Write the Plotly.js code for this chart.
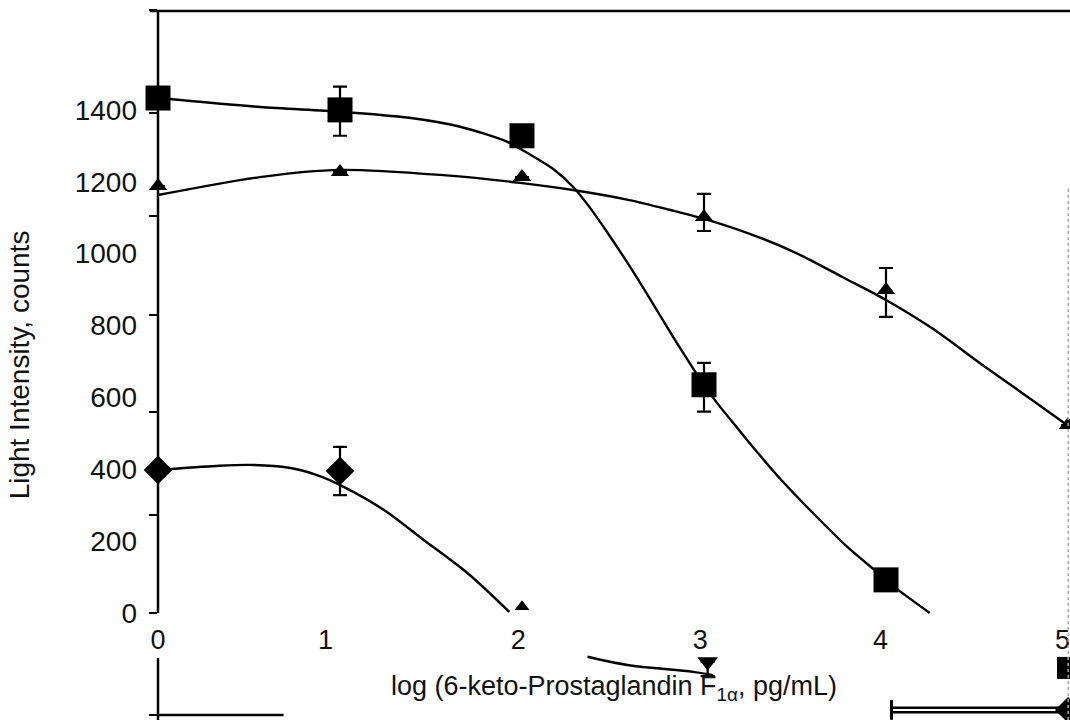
<!DOCTYPE html>
<html>
<head>
<meta charset="utf-8">
<script src="https://cdn.plot.ly/plotly-3.0.1.min.js"></script>
<style>html,body{margin:0;padding:0;background:#fff;}#chart{width:1070px;height:727px;}</style>
</head>
<body>
<div id="chart"></div>
<script>
// ---- data ----
var doseX = [0, 1, 2, 3, 4];
var squareY = [1433, 1400, 1328, 635, 92];
var squareErrPlus = [0, 65, 0, 61, 0];
var squareErrMinus = [0, 72, 0, 75, 0];

var triangleX = [0, 1, 2, 3, 4, 5];
var triangleY = [1188, 1227, 1213, 1102, 899, 523];
var triangleErrPlus = [0, 0, 0, 64, 61, 0];
var triangleErrMinus = [0, 0, 0, 39, 75, 0];

var diamondX = [0, 1];
var diamondY = [398, 395];
var diamondErrPlus = [0, 67];
var diamondErrMinus = [0, 67];

// fitted curves as drawn
var squareFitX = [0, 0.56, 1.0, 1.38, 1.66, 1.92, 2.03, 2.17, 2.28, 2.37, 2.47, 2.58, 2.69, 2.8, 2.91, 3.0, 3.08, 3.17, 3.25, 3.43, 3.62, 3.8, 3.95, 4.06, 4.24];
var squareFitY = [1433, 1408, 1395, 1378, 1353, 1311, 1280, 1236, 1186, 1130, 1058, 974, 885, 793, 704, 634, 579, 523, 473, 367, 267, 178, 114, 67, 0];
var triangleFitX = [0, 0.56, 1.0, 1.55, 1.99, 2.28, 2.59, 2.81, 3.02, 3.31, 3.53, 3.76, 4.0, 4.26, 4.53, 4.81, 5.0];
var triangleFitY = [1163, 1213, 1233, 1219, 1197, 1177, 1149, 1122, 1094, 1044, 996, 935, 871, 790, 690, 590, 521];
var diamondFitX = [0, 0.32, 0.5, 0.72, 0.87, 1.02, 1.24, 1.46, 1.7, 1.93];
var diamondFitY = [398, 409, 412, 404, 384, 351, 287, 203, 111, 3];

// stray fragments below the axis
var smallTriX = [2.0];
var smallTriY = [17];
var lowCurveX = [2.36, 2.58, 2.94, 3.05];
var lowCurveY = [-122, -145, -164, -173];
var lowTriX = [3.02];
var lowTriY = [-136];
var lowSquareX = [5];
var lowSquareY = [-153];
var barX = [4.03, 5.0];
var barY = [-270, -270];
var leftStubX = [0, 0.69];
var leftStubY = [-284, -284];

var yTickVals = [0, 200, 400, 600, 800, 1000, 1200, 1400];
var yTickText = ['0', '200', '400', '600', '800', '1000', '1200', '1400'];
var xTickText = ['0', '1', '2', '3', '4', '5'];
var yMarkVals = [0, 273, 559, 829, 1105, 1392, 1678, -284];

var K = 'black';
var LW = 2.4;
var traces = [
  {x: squareFitX, y: squareFitY, mode: 'lines', line: {color: K, width: LW, shape: 'spline', smoothing: 0.8}, hoverinfo: 'skip'},
  {x: triangleFitX, y: triangleFitY, mode: 'lines', line: {color: K, width: LW, shape: 'spline', smoothing: 0.8}, hoverinfo: 'skip'},
  {x: diamondFitX, y: diamondFitY, mode: 'lines', line: {color: K, width: LW, shape: 'spline', smoothing: 0.8}, hoverinfo: 'skip'},
  {x: lowCurveX, y: lowCurveY, mode: 'lines', line: {color: K, width: LW, shape: 'spline'}, hoverinfo: 'skip'},
  {x: leftStubX, y: leftStubY, mode: 'lines', line: {color: K, width: 2.5}, hoverinfo: 'skip'},
  {x: barX, y: barY, mode: 'lines', line: {color: K, width: 7}, hoverinfo: 'skip'},
  {x: barX, y: barY, mode: 'lines', line: {color: 'white', width: 2}, hoverinfo: 'skip'},
  {x: [barX[0]], y: [barY[0]], mode: 'markers', cliponaxis: false, marker: {symbol: 'line-ns', size: 14, line: {color: K, width: 3}}, hoverinfo: 'skip'},
  {x: [barX[1]], y: [barY[1]], mode: 'markers', marker: {symbol: 'diamond', size: 20, color: K}, hoverinfo: 'skip'},
  {x: doseX, y: squareY, mode: 'markers', cliponaxis: false, marker: {symbol: 'square', size: 25, color: K},
   error_y: {type: 'data', symmetric: false, array: squareErrPlus, arrayminus: squareErrMinus, color: K, thickness: 2.2, width: 7}},
  {x: triangleX, y: triangleY, mode: 'markers', cliponaxis: false, marker: {symbol: 'triangle-up', size: 16, color: K},
   error_y: {type: 'data', symmetric: false, array: triangleErrPlus, arrayminus: triangleErrMinus, color: K, thickness: 2.2, width: 7}},
  {x: diamondX, y: diamondY, mode: 'markers', cliponaxis: false, marker: {symbol: 'diamond', size: 22, color: K},
   error_y: {type: 'data', symmetric: false, array: diamondErrPlus, arrayminus: diamondErrMinus, color: K, thickness: 2.2, width: 7}},
  {x: smallTriX, y: smallTriY, mode: 'markers', marker: {symbol: 'triangle-up', size: 13, color: K}},
  {x: lowTriX, y: lowTriY, mode: 'markers', marker: {symbol: 'triangle-down', size: 18, color: K},
   error_y: {type: 'data', symmetric: false, array: [0], arrayminus: [40], color: K, thickness: 2.2, width: 7}},
  {x: lowSquareX, y: lowSquareY, mode: 'markers', marker: {symbol: 'square', size: 22, color: K}},
  // invisible trace carrying the tick marks of the left axis
  {x: [0], y: [0], yaxis: 'y2', mode: 'markers', marker: {opacity: 0}, hoverinfo: 'skip'}
];

var yRange = [-298, 1678];
var layout = {
  width: 1070, height: 727,
  margin: {l: 158, r: 0, t: 10, b: 7},
  paper_bgcolor: 'white', plot_bgcolor: 'white',
  showlegend: false,
  font: {family: 'Liberation Sans, Arial, sans-serif', color: '#111', size: 27},
  xaxis: {
    range: [0, 5.011], showgrid: false, zeroline: false, showline: false,
    anchor: 'free', position: 0.1507,
    tickmode: 'array', tickvals: [0, 0.92, 1.98, 2.98, 3.97, 4.97], ticktext: xTickText,
    ticks: '', ticklabelstandoff: 8, ticklabeloverflow: 'allow',
    tickfont: {size: 27, color: '#111'},
    title: {text: 'log (6-keto-Prostaglandin F<sub>1α</sub>, pg/mL)', font: {size: 27, color: '#111'}, standoff: 22}
  },
  yaxis: {
    range: yRange, showgrid: false, zeroline: false, showline: false,
    tickmode: 'array', tickvals: yTickVals, ticktext: yTickText,
    ticks: '', ticklabelstandoff: 20,
    tickfont: {size: 28, color: '#111'},
    title: {text: 'Light Intensity, counts', font: {size: 28, color: '#111'}, standoff: 36}
  },
  yaxis2: {
    range: yRange, overlaying: 'y', side: 'left', showgrid: false, zeroline: false, showline: false,
    tickmode: 'array', tickvals: yMarkVals, ticks: 'outside', ticklen: 8, tickwidth: 2.5, tickcolor: K,
    showticklabels: false
  },
  shapes: [
    {type: 'line', xref: 'paper', yref: 'y', x0: 0, x1: 0, y0: 0, y1: 1678, line: {color: K, width: 2.5}},
    {type: 'line', xref: 'paper', yref: 'y', x0: 0, x1: 0, y0: -125, y1: -298, line: {color: K, width: 2.5}},
    {type: 'line', xref: 'paper', yref: 'paper', x0: -0.009, x1: 1, y0: 0.9985, y1: 0.9985, line: {color: K, width: 2.5}},
    {type: 'line', xref: 'paper', yref: 'y', x0: 0.998, x1: 0.998, y0: 1180, y1: -298, line: {color: '#aaa', width: 1.5, dash: 'dot'}}
  ]
};

Plotly.newPlot('chart', traces, layout, {displayModeBar: false, staticPlot: true});
</script>
</body>
</html>
